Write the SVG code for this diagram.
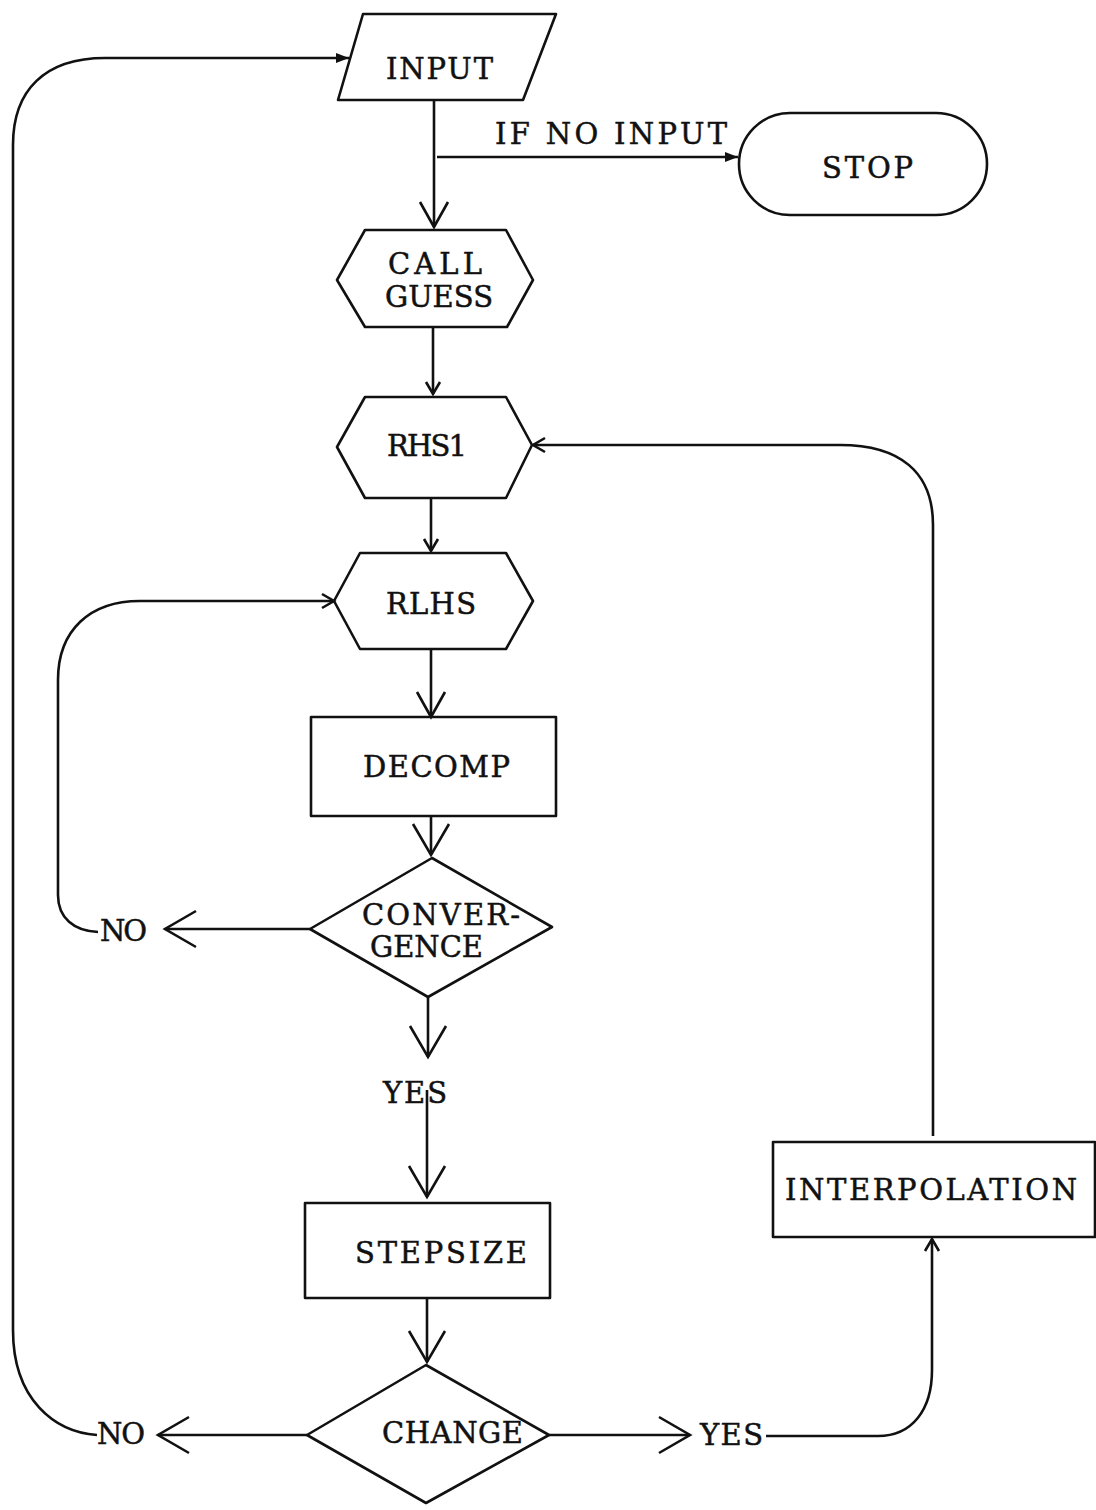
<svg xmlns="http://www.w3.org/2000/svg" width="1096" height="1510" viewBox="0 0 1096 1510">
<style>
.shape{fill:none;stroke:#111;stroke-width:2.6;stroke-linejoin:round}
.conn{fill:none;stroke:#111;stroke-width:2.6}
.lbl{font-family:"DejaVu Serif","Liberation Serif",serif;font-size:29px;fill:#111;stroke:#111;stroke-width:0.5}
</style>
<defs>
<marker id="vbig" markerUnits="userSpaceOnUse" markerWidth="40" markerHeight="40" refX="33" refY="20" orient="auto" overflow="visible"><path d="M2,2 L33,20 L2,38" fill="none" stroke="#111" stroke-width="2.6"/></marker>
<marker id="vmed" markerUnits="userSpaceOnUse" markerWidth="30" markerHeight="30" refX="26" refY="15" orient="auto" overflow="visible"><path d="M1,1 L26,15 L1,29" fill="none" stroke="#111" stroke-width="2.6"/></marker>
<marker id="vsmall" markerUnits="userSpaceOnUse" markerWidth="20" markerHeight="20" refX="14" refY="10" orient="auto" overflow="visible"><path d="M2,3 L14,10 L2,17" fill="none" stroke="#111" stroke-width="2.6"/></marker>
<marker id="tri" markerUnits="userSpaceOnUse" markerWidth="16" markerHeight="12" refX="14" refY="6" orient="auto" overflow="visible"><path d="M1,1 L14,6 L1,11 Z" fill="#111"/></marker>
</defs>
<rect width="1096" height="1510" fill="#fff"/>

<g id="connectors">
<path class="conn" d="M434,100 V227" marker-end="url(#vmed)"/>
<path class="conn" d="M437,157 H738" marker-end="url(#tri)"/>
<path class="conn" d="M433,327 V394" marker-end="url(#vsmall)"/>
<path class="conn" d="M431,498 V551" marker-end="url(#vsmall)"/>
<path class="conn" d="M431,649 V717" marker-end="url(#vmed)"/>
<path class="conn" d="M431,816 V855" marker-end="url(#vbig)"/>
<path class="conn" d="M310,929 H165" marker-end="url(#vbig)"/>
<path class="conn" d="M98,932 C74,931 58,918 58,895 V680 C58,630 90,601 140,601 H334" marker-end="url(#vsmall)"/>
<path class="conn" d="M428,997 V1057" marker-end="url(#vbig)"/>
<path class="conn" d="M427,1090 V1197" marker-end="url(#vbig)"/>
<path class="conn" d="M427,1298 V1362" marker-end="url(#vbig)"/>
<path class="conn" d="M307,1435 H158" marker-end="url(#vbig)"/>
<path class="conn" d="M97,1435 C55,1432 13,1400 13,1330 V145 C13,90 45,58 105,58 H349" marker-end="url(#tri)"/>
<path class="conn" d="M549,1435 H690" marker-end="url(#vbig)"/>
<path class="conn" d="M766,1436 H878 C912,1436 932,1410 932,1370 V1239" marker-end="url(#vsmall)"/>
<path class="conn" d="M933,1136 V525 C933,472 900,445 840,445 H533" marker-end="url(#vsmall)"/>
</g>

<g id="input">
<polygon class="shape" points="363,14 556,14 523,100 338,100"/>
<text class="lbl" x="386" y="79" textLength="107">INPUT</text>
</g>
<g id="label-if-no-input">
<text class="lbl" x="495" y="144" textLength="232">IF NO INPUT</text>
</g>
<g id="stop">
<rect class="shape" x="739" y="113" width="248" height="102" rx="51" ry="51"/>
<text class="lbl" x="822" y="178" textLength="91">STOP</text>
</g>
<g id="call-guess">
<polygon class="shape" points="337,280 365,230 506,230 533,280 507,327 365,327"/>
<text class="lbl" x="388" y="274" textLength="94">CALL</text>
<text class="lbl" x="385" y="307" textLength="108">GUESS</text>
</g>
<g id="rhs1">
<polygon class="shape" points="337,447 365,397 506,397 532,445 506,498 365,498"/>
<text class="lbl" x="387" y="456" textLength="80">RHS1</text>
</g>
<g id="rlhs">
<polygon class="shape" points="334,601 360,553 506,553 533,601 506,649 360,649"/>
<text class="lbl" x="386" y="614" textLength="90">RLHS</text>
</g>
<g id="decomp">
<rect class="shape" x="311" y="717" width="245" height="99"/>
<text class="lbl" x="363" y="777" textLength="147">DECOMP</text>
</g>
<g id="convergence">
<polygon class="shape" points="432,858 552,927 428,997 310,929"/>
<text class="lbl" x="362" y="925" textLength="158">CONVER-</text>
<text class="lbl" x="370" y="957" textLength="113">GENCE</text>
</g>
<g id="label-no-1">
<text class="lbl" x="100" y="941" textLength="47">NO</text>
</g>
<g id="label-yes-1">
<text class="lbl" x="383" y="1103" textLength="64">YES</text>
</g>
<g id="stepsize">
<rect class="shape" x="305" y="1203" width="245" height="95"/>
<text class="lbl" x="355" y="1263" textLength="172">STEPSIZE</text>
</g>
<g id="change">
<polygon class="shape" points="426,1365 549,1435 426,1503 307,1435"/>
<text class="lbl" x="382" y="1443" textLength="141">CHANGE</text>
</g>
<g id="label-no-2">
<text class="lbl" x="97" y="1444" textLength="48">NO</text>
</g>
<g id="label-yes-2">
<text class="lbl" x="700" y="1445" textLength="63">YES</text>
</g>
<g id="interpolation">
<rect class="shape" x="773" y="1142" width="322" height="95"/>
<text class="lbl" x="785" y="1200" textLength="292">INTERPOLATION</text>
</g>
</svg>
